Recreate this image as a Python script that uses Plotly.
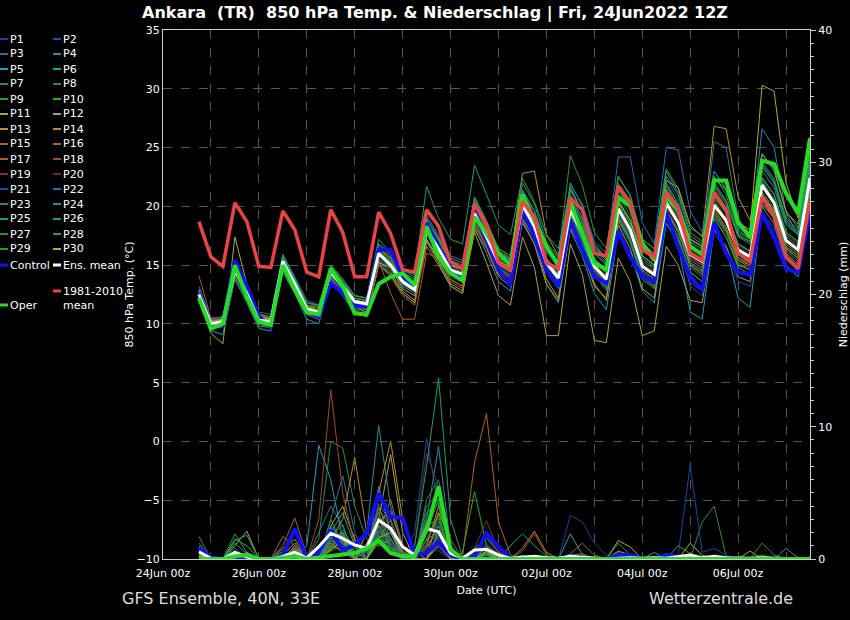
import pandas as pd
import plotly.graph_objects as go

# GFS ensemble run 24Jun2022 12Z, 6-hourly output starting 24Jun 18z
START = "2022-06-24 18:00"
STEPS = 52

MEMBER_NAMES = ["P%d" % n for n in range(1, 31)]
MEMBER_COLORS = [
    "#1f3fa0", "#1f4aa8", "#2e6e9e", "#2e8aaa", "#1e9ec0", "#1ea878",
    "#2a8a5a", "#2e8a4a", "#22a030", "#22b022", "#a8a840", "#b0a050",
    "#c09020", "#b88a28", "#9a6a30", "#9a6a40", "#b06020", "#a04a2a",
    "#7a3428", "#702828", "#1a48b0", "#2070b8", "#2a7a90", "#289090",
    "#18a070", "#20a068", "#2a8a48", "#30a040", "#20a020", "#b0b020",
]

# 850 hPa temperature (°C)
CLIMATE_T = [18.7, 15.7, 14.9, 20.3, 18.7, 14.9, 14.8, 19.6,
             18.0, 14.4, 14.0, 19.7, 17.8, 14.0, 14.0, 19.5,
             17.7, 14.6, 14.4, 19.7, 18.3, 15.3, 14.7, 20.2,
             18.4, 15.2, 14.6, 20.4, 19.1, 15.2, 14.7, 20.7,
             19.7, 16.0, 15.8, 21.7, 20.3, 16.3, 15.7, 21.2,
             19.8, 16.0, 15.4, 21.2, 19.7, 16.0, 15.3, 20.8,
             19.1, 15.7, 14.7, 20.5]
MEAN_T = [12.5, 10.0, 10.2, 14.6, 12.6, 10.3, 10.2, 15.3,
          13.4, 11.3, 11.0, 14.4, 13.2, 11.9, 11.7, 16.0,
          15.0, 13.6, 12.9, 18.0, 16.4, 14.6, 14.2, 19.4,
          17.4, 15.2, 14.6, 20.1, 18.3, 15.2, 13.9, 19.7,
          17.7, 14.9, 13.8, 19.8, 18.0, 14.9, 14.2, 20.3,
          18.6, 15.9, 15.3, 20.1, 18.8, 16.3, 15.7, 21.8,
          20.3, 17.1, 16.3, 22.4]
CONTROL_T = [12.6, 9.8, 9.9, 15.4, 13.2, 10.6, 9.8, 15.2,
             13.2, 11.0, 10.6, 13.5, 12.6, 11.5, 11.5, 16.3,
             16.3, 14.0, 13.2, 18.6, 16.6, 14.7, 14.0, 19.7,
             17.1, 14.6, 13.3, 19.8, 17.4, 14.6, 13.2, 18.8,
             16.3, 14.0, 13.5, 17.9, 15.7, 14.0, 13.6, 19.5,
             16.6, 14.0, 12.9, 18.6, 16.0, 14.4, 14.2, 19.4,
             17.4, 14.7, 14.4, 19.5]
OPER_T = [12.2, 9.6, 10.0, 15.0, 12.3, 10.2, 9.9, 15.0,
          12.9, 11.0, 10.8, 14.7, 13.2, 10.9, 10.8, 13.4,
          14.0, 14.3, 13.3, 18.3, 15.7, 14.3, 13.7, 19.1,
          17.7, 16.0, 15.0, 21.0, 18.8, 16.6, 15.0, 20.4,
          17.7, 15.2, 14.6, 20.8, 20.0, 16.9, 15.4, 20.8,
          19.7, 16.6, 15.9, 22.2, 22.2, 18.6, 17.4, 23.9,
          23.6, 21.1, 19.4, 25.8]

T_P1 = [12.8, 10.3, 10.0, 14.0, 12.2, 10.6, 10.4, 14.6, 13.0, 11.5, 11.2, 13.8, 12.5, 11.2, 11.0, 15.5,
        14.8, 13.3, 12.6, 17.6, 16.0, 14.0, 13.5, 18.8, 17.0, 14.8, 14.0, 19.6, 17.8, 14.5, 13.2, 19.0,
        17.0, 14.2, 12.8, 18.6, 16.8, 13.8, 13.0, 18.5, 17.0, 13.5, 12.8, 18.2, 16.5, 14.5, 14.0, 20.5,
        19.0, 16.0, 15.2, 21.0]
T_P2 = [12.3, 9.8, 9.7, 14.2, 12.4, 10.0, 9.6, 15.0, 13.1, 11.0, 10.6, 14.0, 12.8, 11.6, 11.3, 16.4,
        15.5, 13.9, 13.2, 18.4, 16.8, 14.9, 14.6, 20.0, 18.0, 15.6, 15.0, 20.8, 19.0, 16.0, 14.8, 21.5,
        19.5, 16.2, 15.0, 22.0, 20.5, 16.8, 15.8, 22.4, 20.6, 17.0, 16.2, 21.0, 19.5, 16.8, 16.0, 22.5,
        21.0, 17.5, 16.5, 22.0]
T_P3 = [13.2, 10.4, 10.3, 15.0, 13.0, 10.8, 10.5, 15.8, 13.8, 11.6, 11.2, 14.8, 13.5, 12.0, 11.8, 16.8,
        15.8, 14.0, 13.0, 18.2, 16.5, 14.4, 14.0, 19.0, 17.0, 14.8, 14.0, 19.4, 17.5, 14.4, 13.0, 18.6,
        16.8, 14.0, 13.2, 19.0, 17.2, 14.2, 13.5, 19.6, 18.0, 15.2, 14.5, 19.4, 18.0, 15.6, 15.2, 21.0,
        19.5, 16.5, 15.8, 21.5]
T_P4 = [12.9, 10.2, 10.4, 14.8, 12.8, 10.2, 10.0, 15.1, 13.3, 11.2, 10.9, 14.6, 13.4, 12.2, 12.0, 16.5,
        15.6, 14.2, 13.6, 18.8, 17.2, 15.4, 15.0, 20.4, 18.4, 16.0, 15.5, 21.4, 19.6, 16.4, 15.2, 21.0,
        19.0, 16.0, 15.0, 21.8, 20.0, 16.5, 15.8, 22.6, 21.0, 17.5, 16.8, 23.0, 21.5, 18.0, 17.2, 26.6,
        25.0, 19.5, 17.5, 23.5]
T_P5 = [12.0, 9.4, 9.1, 13.8, 11.8, 9.6, 9.4, 14.4, 12.6, 10.4, 10.0, 13.6, 12.4, 11.0, 10.6, 15.2,
        14.2, 12.6, 11.8, 17.0, 15.2, 13.2, 12.6, 18.2, 16.0, 13.6, 12.8, 18.8, 16.8, 13.4, 11.8, 18.0,
        15.8, 12.6, 11.2, 17.8, 16.0, 12.8, 11.8, 18.6, 16.8, 11.0, 10.4, 18.0, 16.6, 12.2, 11.4, 20.0,
        18.5, 15.0, 14.0, 20.5]
T_P6 = [12.6, 10.2, 10.5, 15.2, 13.2, 10.6, 10.5, 15.9, 13.9, 11.8, 11.5, 15.0, 13.8, 12.4, 12.2, 16.8,
        15.8, 14.4, 13.8, 19.0, 17.4, 15.6, 15.2, 20.8, 18.6, 16.4, 15.8, 21.4, 19.6, 16.4, 15.0, 22.0,
        20.0, 16.8, 15.6, 22.5, 21.0, 17.2, 16.4, 23.2, 21.5, 18.2, 17.5, 22.0, 20.5, 17.5, 17.0, 24.5,
        23.0, 19.5, 18.5, 24.5]
T_P7 = [12.4, 9.9, 10.2, 14.4, 12.5, 10.2, 10.0, 15.0, 13.2, 11.2, 11.0, 14.2, 13.0, 11.8, 11.5, 15.6,
        14.6, 13.2, 12.6, 17.6, 16.0, 14.2, 13.8, 19.0, 17.2, 15.0, 14.4, 20.0, 18.2, 15.4, 14.2, 20.2,
        18.4, 15.4, 14.2, 20.4, 18.6, 15.4, 14.6, 20.8, 19.0, 16.2, 15.6, 20.6, 19.0, 16.4, 15.8, 22.2,
        20.6, 17.6, 16.8, 22.8]
T_P8 = [12.7, 10.1, 10.3, 14.9, 12.9, 10.5, 10.3, 15.5, 13.6, 11.4, 11.1, 14.9, 13.6, 12.2, 11.9, 16.4,
        15.3, 13.8, 13.0, 18.6, 16.8, 14.8, 14.3, 19.8, 17.8, 15.4, 14.8, 20.6, 18.6, 15.2, 13.8, 19.2,
        17.0, 14.2, 13.0, 19.0, 17.2, 14.0, 13.2, 19.6, 17.8, 15.0, 14.4, 19.2, 17.8, 15.4, 15.0, 21.0,
        19.6, 16.6, 15.8, 21.6]
T_P9 = [12.2, 9.6, 9.8, 14.0, 12.0, 9.8, 9.7, 14.7, 12.8, 10.8, 10.5, 14.0, 12.8, 11.5, 11.2, 15.8,
        15.0, 13.4, 12.8, 18.2, 16.6, 15.0, 14.6, 20.8, 18.8, 16.4, 15.8, 22.0, 20.2, 17.0, 15.6, 24.3,
        21.8, 17.8, 16.4, 22.6, 20.8, 17.2, 16.4, 23.0, 21.2, 17.8, 17.0, 22.6, 21.0, 17.8, 17.2, 23.4,
        22.0, 18.6, 17.6, 24.0]
T_P10 = [12.5, 10.0, 10.1, 14.8, 12.7, 10.4, 10.2, 15.4, 13.6, 11.5, 11.2, 14.8, 13.4, 12.0, 11.8, 16.2,
         15.2, 13.8, 13.2, 18.4, 16.8, 15.0, 14.6, 19.6, 17.6, 15.6, 15.0, 20.6, 18.8, 15.6, 14.2, 20.4,
         18.2, 15.0, 14.0, 20.2, 18.4, 15.2, 14.4, 20.6, 18.8, 16.0, 15.4, 20.8, 19.4, 16.8, 16.2, 22.4,
         21.0, 17.8, 17.0, 23.4]
T_P11 = [12.0, 9.2, 8.3, 17.4, 13.4, 10.0, 9.8, 15.6, 13.8, 11.0, 10.4, 14.2, 13.0, 11.4, 11.0, 15.2,
         14.8, 13.0, 12.4, 17.2, 15.6, 13.8, 13.2, 18.4, 16.6, 14.2, 13.4, 19.0, 17.2, 13.8, 12.2, 18.8,
         16.6, 13.4, 12.0, 18.4, 16.4, 13.0, 12.2, 19.2, 17.2, 14.4, 13.6, 19.0, 17.4, 15.0, 14.6, 21.0,
         19.6, 16.4, 15.6, 21.6]
T_P12 = [12.4, 9.8, 9.9, 14.2, 12.3, 10.1, 10.0, 14.8, 13.0, 11.0, 10.8, 13.8, 12.6, 11.6, 11.4, 15.4,
         14.4, 12.8, 12.0, 17.2, 15.4, 13.4, 12.8, 17.8, 15.2, 12.4, 11.6, 17.4, 14.8, 9.0, 9.0, 16.8,
         14.2, 8.6, 8.4, 15.6, 13.6, 9.0, 9.4, 16.6, 15.0, 12.0, 11.8, 18.0, 16.6, 14.0, 13.6, 20.2,
         19.0, 16.0, 15.0, 21.0]
T_P13 = [12.8, 10.4, 10.6, 15.2, 13.2, 10.8, 10.6, 15.6, 13.8, 11.6, 11.4, 14.2, 13.0, 12.0, 11.8, 16.4,
         15.6, 14.0, 13.4, 18.8, 17.2, 15.4, 14.8, 20.4, 18.6, 16.2, 15.6, 22.8, 23.0, 17.6, 15.8, 21.4,
         19.6, 16.6, 15.4, 21.8, 20.2, 16.8, 16.0, 22.2, 21.6, 18.4, 17.4, 26.8, 26.6, 20.8, 18.8, 24.4,
         23.2, 19.6, 18.2, 24.0]
T_P14 = [12.1, 9.6, 9.8, 14.4, 12.4, 10.0, 9.8, 15.0, 13.0, 10.8, 10.4, 14.0, 12.6, 11.2, 10.6, 15.0,
         14.2, 12.6, 11.8, 16.6, 15.0, 13.2, 12.6, 18.0, 16.4, 14.0, 13.2, 18.6, 16.8, 13.4, 12.0, 18.2,
         16.2, 13.2, 12.2, 18.8, 17.0, 14.0, 13.2, 19.6, 17.8, 15.0, 14.2, 19.8, 18.2, 15.6, 15.0, 21.2,
         19.8, 16.8, 16.0, 22.0]
T_P15 = [12.9, 10.3, 10.2, 14.4, 12.6, 10.4, 10.3, 15.2, 13.2, 11.0, 10.6, 13.6, 12.4, 11.0, 10.6, 15.0,
         14.0, 12.4, 11.6, 17.0, 15.2, 13.6, 13.0, 18.6, 16.8, 14.6, 13.8, 19.6, 17.8, 14.6, 13.4, 19.2,
         17.2, 14.4, 13.4, 19.2, 17.4, 14.4, 13.6, 19.8, 18.0, 15.2, 14.6, 19.6, 18.0, 15.4, 14.8, 21.0,
         19.4, 16.4, 15.6, 21.6]
T_P16 = [12.6, 10.0, 10.1, 14.8, 12.8, 10.6, 10.4, 15.6, 13.6, 11.4, 11.0, 14.6, 13.2, 11.8, 11.4, 16.2,
         15.2, 13.6, 12.8, 18.0, 16.4, 14.4, 13.8, 19.2, 17.2, 14.8, 14.2, 20.0, 18.2, 15.0, 13.8, 19.6,
         17.6, 14.8, 13.6, 19.4, 17.6, 14.6, 13.8, 20.0, 18.4, 15.6, 15.0, 20.4, 18.8, 16.2, 15.6, 22.0,
         20.6, 17.4, 16.6, 22.6]
T_P17 = [14.1, 10.5, 10.3, 14.4, 12.6, 10.4, 10.2, 15.0, 13.2, 11.0, 10.6, 13.8, 12.8, 11.4, 11.2, 15.4,
         12.6, 10.4, 10.4, 16.0, 15.6, 13.8, 13.2, 18.8, 17.0, 14.6, 14.0, 19.8, 18.0, 15.2, 14.0, 19.8,
         17.8, 15.0, 14.0, 19.8, 18.0, 15.0, 14.2, 20.4, 18.8, 16.0, 15.2, 20.2, 18.6, 16.0, 15.4, 21.6,
         20.2, 17.0, 16.2, 22.2]
T_P18 = [12.5, 10.4, 10.6, 14.6, 12.8, 10.6, 10.6, 15.6, 13.8, 11.6, 11.2, 14.6, 13.4, 12.2, 12.0, 16.6,
         15.6, 14.0, 13.4, 18.6, 16.8, 14.8, 14.4, 19.8, 17.8, 15.4, 14.8, 20.4, 18.6, 15.4, 14.0, 19.8,
         17.6, 14.6, 13.6, 19.6, 17.8, 14.6, 13.8, 20.2, 18.4, 15.6, 15.0, 20.0, 18.6, 16.0, 15.4, 21.8,
         20.2, 17.0, 16.2, 22.4]
T_P19 = [12.2, 9.8, 10.0, 14.2, 12.2, 10.0, 9.8, 15.0, 13.4, 11.6, 11.6, 14.8, 13.6, 12.4, 12.2, 16.2,
         15.0, 13.4, 12.8, 17.8, 16.2, 14.4, 14.0, 19.2, 17.4, 15.2, 14.6, 20.2, 18.4, 15.2, 13.8, 19.4,
         17.4, 14.6, 13.6, 19.6, 17.8, 14.8, 14.0, 20.2, 18.4, 15.6, 15.0, 20.0, 18.6, 16.2, 15.6, 21.8,
         20.4, 17.2, 16.4, 22.6]
T_P20 = [12.6, 10.2, 10.2, 14.6, 12.6, 10.2, 10.2, 15.2, 13.4, 11.4, 11.0, 14.4, 13.2, 11.8, 11.6, 16.0,
         15.0, 13.6, 13.0, 18.2, 16.6, 14.8, 14.4, 19.6, 17.6, 15.4, 14.8, 20.2, 18.4, 15.4, 14.2, 19.8,
         17.8, 15.0, 14.0, 20.0, 18.2, 15.2, 14.4, 20.6, 18.8, 16.2, 15.6, 20.4, 19.0, 16.6, 16.0, 22.0,
         20.6, 17.4, 16.6, 22.6]
T_P21 = [12.3, 9.7, 9.9, 14.4, 12.4, 10.2, 10.0, 15.0, 13.2, 11.0, 10.6, 14.0, 12.8, 11.6, 11.4, 16.0,
         15.0, 13.4, 12.6, 17.8, 16.2, 14.2, 13.6, 19.0, 17.0, 14.8, 14.2, 19.6, 17.6, 14.6, 13.4, 19.2,
         17.2, 14.4, 13.4, 19.4, 17.4, 14.4, 13.6, 19.2, 16.8, 13.2, 12.4, 17.6, 16.4, 13.6, 13.2, 19.4,
         18.2, 15.4, 14.6, 20.6]
T_P22 = [13.0, 10.5, 10.6, 15.4, 13.4, 11.0, 10.8, 15.9, 14.0, 12.0, 11.6, 14.8, 13.6, 12.4, 12.2, 16.8,
         16.0, 14.6, 14.0, 19.2, 17.6, 15.8, 15.4, 20.6, 18.4, 16.0, 15.6, 21.4, 19.6, 16.8, 15.8, 21.8,
         20.2, 17.0, 16.0, 24.2, 24.2, 18.6, 16.8, 25.0, 24.8, 19.6, 17.8, 23.0, 21.4, 18.2, 17.6, 23.4,
         22.0, 18.8, 17.8, 23.8]
T_P23 = [12.8, 10.2, 10.1, 14.6, 12.6, 10.4, 10.2, 15.4, 13.6, 11.4, 11.0, 14.2, 13.0, 11.8, 11.6, 16.2,
         15.2, 13.6, 13.0, 18.2, 16.6, 14.6, 14.2, 19.6, 17.6, 15.2, 14.6, 20.6, 18.8, 15.6, 14.4, 20.8,
         18.8, 15.6, 14.6, 21.0, 19.2, 15.8, 15.0, 21.6, 20.0, 17.0, 16.4, 25.5, 25.0, 19.0, 17.6, 23.8,
         22.4, 18.8, 17.6, 23.6]
T_P24 = [12.4, 9.9, 10.0, 14.4, 12.4, 10.2, 10.0, 15.2, 13.2, 11.2, 10.8, 14.2, 13.0, 11.8, 11.6, 16.0,
         15.0, 13.4, 12.8, 18.0, 16.4, 14.4, 14.0, 19.4, 17.4, 15.0, 14.4, 20.0, 18.2, 15.0, 13.6, 19.6,
         17.4, 14.6, 13.4, 19.8, 17.8, 14.6, 13.8, 20.2, 18.4, 15.4, 14.8, 20.2, 18.6, 16.0, 15.4, 22.0,
         20.4, 17.2, 16.4, 22.4]
T_P25 = [12.7, 10.2, 10.4, 15.0, 13.0, 10.6, 10.4, 15.8, 13.8, 11.8, 11.6, 15.0, 13.8, 12.4, 12.2, 17.2,
         16.0, 14.6, 14.2, 21.7, 19.0, 17.2, 16.8, 23.5, 21.0, 18.4, 17.6, 22.4, 20.4, 17.6, 16.4, 21.6,
         19.6, 16.6, 15.6, 21.4, 19.8, 16.6, 15.8, 21.8, 20.2, 17.2, 16.6, 21.6, 20.2, 17.4, 16.8, 23.0,
         21.6, 18.4, 17.6, 23.6]
T_P26 = [12.3, 9.8, 10.0, 14.6, 12.6, 10.4, 10.2, 15.2, 13.4, 11.4, 11.0, 14.4, 13.2, 11.8, 11.6, 15.8,
         14.8, 13.4, 12.8, 18.0, 16.4, 14.6, 14.2, 19.8, 17.8, 15.6, 15.0, 20.6, 18.6, 15.6, 14.2, 20.6,
         18.6, 15.6, 14.4, 20.6, 18.8, 15.6, 14.8, 21.0, 19.2, 16.4, 15.8, 21.0, 19.4, 16.8, 16.2, 22.4,
         21.0, 17.8, 17.0, 23.0]
T_P27 = [12.6, 10.0, 10.2, 14.4, 12.4, 10.2, 10.0, 15.0, 13.2, 11.2, 10.8, 14.4, 13.2, 11.8, 11.4, 16.0,
         15.0, 13.6, 13.0, 18.4, 16.8, 14.8, 14.4, 19.6, 17.6, 15.2, 14.6, 20.2, 18.4, 15.2, 13.8, 19.4,
         17.4, 14.4, 13.2, 19.2, 17.2, 14.0, 13.2, 19.6, 17.8, 14.8, 14.0, 19.4, 17.8, 15.2, 14.6, 21.2,
         19.8, 16.6, 15.8, 21.8]
T_P28 = [12.4, 9.8, 9.9, 14.6, 12.6, 10.2, 10.0, 15.4, 13.6, 11.4, 11.0, 14.6, 13.4, 12.0, 11.8, 16.4,
         15.4, 14.0, 13.4, 18.6, 17.0, 15.2, 14.8, 20.2, 18.2, 16.0, 15.4, 21.2, 19.2, 16.2, 15.0, 21.4,
         19.6, 16.4, 15.2, 21.6, 19.8, 16.4, 15.6, 22.0, 20.2, 17.2, 16.6, 21.8, 20.4, 17.6, 17.0, 23.6,
         22.2, 19.0, 18.0, 24.6]
T_P29 = [12.5, 10.1, 10.2, 14.8, 12.8, 10.4, 10.2, 15.6, 13.8, 11.6, 11.2, 14.8, 13.6, 12.2, 12.0, 16.4,
         15.4, 13.8, 13.2, 18.2, 16.6, 14.6, 14.2, 19.4, 17.4, 15.0, 14.4, 20.0, 18.0, 14.8, 13.4, 19.2,
         17.2, 14.2, 13.0, 19.0, 17.0, 13.8, 13.0, 19.4, 17.4, 14.4, 13.6, 19.0, 17.4, 14.8, 14.2, 20.8,
         19.4, 16.2, 15.4, 21.4]
T_P30 = [12.6, 10.2, 10.4, 14.8, 12.8, 10.6, 10.4, 15.4, 13.4, 11.2, 10.8, 14.4, 13.2, 12.0, 11.8, 16.0,
         15.0, 13.6, 13.0, 18.4, 16.8, 15.0, 14.6, 19.8, 17.8, 15.4, 14.8, 20.4, 18.6, 15.4, 14.0, 20.0,
         18.0, 15.0, 14.0, 20.4, 18.8, 15.8, 15.0, 21.4, 20.0, 17.2, 16.6, 22.4, 21.4, 18.6, 18.0, 30.3,
         29.8, 22.0, 19.0, 25.0]

# 6-hourly precipitation (mm)
MEAN_R = [0.55, 0.05, 0, 0.5, 0.15, 0, 0, 0.2, 0.5, 0.07, 0.93, 1.94, 1.56,
          1.06, 0.8, 2.95, 2.3, 0.93, 0.3, 2.3, 2.06, 0.43, 0.05, 0.68, 0.73, 0.3,
          0.05, 0.15, 0.2, 0.1, 0.05, 0.2, 0.15, 0.05, 0, 0.05, 0.1, 0.05, 0.1,
          0.05, 0.15, 0.3, 0.1, 0.2, 0.1, 0.05, 0.05, 0.1, 0.05, 0.05, 0, 0.05]
CONTROL_R = [0.8, 0.1, 0, 0.2, 0, 0, 0, 0.25, 2.3, 0, 0.55, 2.2, 0.68,
             1.06, 1.94, 4.97, 3.2, 3.1, 0.3, 0.45, 1.3, 0.3, 0, 0.2, 1.94, 0.93,
             0.05, 0, 0, 0, 0, 0.2, 0.1, 0, 0, 0.3, 0.3, 0, 0,
             0.3, 0.2, 0, 0, 0, 0, 0, 0, 0, 0, 0, 0, 0]
OPER_R = [0, 0, 0, 0.2, 0.3, 0, 0, 0.1, 0.2, 0, 0.1, 0.2, 0.3,
          0.45, 0.8, 1.4, 0.45, 0.2, 0.2, 2.2, 5.5, 0.7, 0, 0, 0, 0,
          0, 0, 0, 0, 0, 0, 0, 0, 0, 0, 0, 0, 0,
          0, 0, 0, 0, 0, 0, 0, 0, 0, 0, 0, 0, 0]

R_P1 = [0.5, 0, 0, 0.3, 0, 0, 0, 0, 0.8, 0, 0.5, 1.0, 2.0,
        1.0, 0, 3.0, 2.0, 0.5, 0, 1.5, 0.8, 0, 0, 0, 0.5, 0,
        0, 0, 0, 0, 0, 3.3, 2.8, 1.2, 0.3, 0, 0, 0, 0,
        0, 0, 0, 0, 0, 0, 0, 0, 0, 0, 0, 0, 0]
R_P2 = [0.3, 0, 0, 0, 0.2, 0, 0, 0, 1.0, 0, 0, 1.5, 0.8,
        0, 0, 2.0, 1.0, 0, 2.0, 9.1, 4.0, 0.5, 0, 0, 1.2, 0.3,
        0, 0, 0, 0, 0, 0, 0, 0, 0, 0, 0, 0, 0,
        0, 0, 0, 0, 0, 0, 0, 0, 0, 0, 0, 0, 0]
R_P3 = [0.6, 0, 0, 0.4, 0, 0, 0, 0.5, 0, 0, 2.0, 4.0, 2.5,
        0, 1.0, 3.5, 1.2, 0, 0, 1.0, 2.0, 0, 0, 0.4, 0, 0,
        0, 0, 0, 0, 0, 0, 0, 0, 0, 0, 0, 0, 0,
        0, 0, 0, 0, 0, 0, 0, 0, 0, 0, 0, 0, 0]
R_P4 = [0.4, 0, 0, 0, 0, 0, 0, 0, 0.6, 0, 0, 2.5, 1.5,
        0, 0, 5.5, 2.0, 0, 0.5, 3.0, 8.5, 1.0, 0, 0, 0.6, 0,
        0, 0.3, 0, 0, 0, 0, 0, 0, 0, 0, 0, 0, 0,
        0, 0, 0, 0, 0, 0, 0, 0, 0, 0, 0, 0, 0]
R_P5 = [0.7, 0, 0, 0.5, 0, 0, 0, 0, 0, 1.0, 8.6, 6.0, 1.5,
        0.5, 0, 2.5, 1.0, 0, 0, 0, 1.5, 0, 0, 0.8, 1.6, 0.5,
        0, 0, 0, 0, 0, 1.9, 0.3, 0, 0, 0, 0, 0, 0.5,
        0, 0, 0, 0, 0, 0, 0, 0, 0, 0, 0, 0, 0]
R_P6 = [1.2, 0, 0, 1.5, 1.0, 0, 0, 0, 0.4, 0, 0, 2.0, 3.5,
        1.0, 0, 1.8, 0.8, 0, 0, 2.5, 3.0, 0.4, 0, 0, 0, 0,
        1.0, 1.9, 1.0, 0.2, 0, 0, 0, 0, 0, 0, 0, 0, 0,
        0, 0, 0, 0, 0, 0, 0, 0, 0, 0, 0, 0, 0]
R_P7 = [0.4, 0, 0, 0.6, 0, 0, 0, 0, 0, 0, 1.5, 8.9, 8.4,
        4.0, 1.5, 1.0, 2.5, 0.5, 0, 0, 2.0, 0, 0, 0, 0.3, 0,
        0, 0, 0, 0, 0, 0, 0, 0, 0, 0, 0, 0, 0,
        0, 0, 0, 0, 0, 0, 0, 0, 0, 0, 0, 0, 0]
R_P8 = [0.6, 0, 0, 0.4, 0, 0, 0, 0, 0.5, 0, 0, 1.2, 2.2,
        0.8, 0.5, 4.0, 1.5, 0, 0, 4.5, 6.0, 1.0, 0, 0, 0, 0,
        0, 0, 0, 0, 0, 0, 0, 0, 0, 0, 0, 0, 0,
        0, 0, 0, 2.8, 4.0, 0.2, 0, 0, 0, 0, 0, 0, 0]
R_P9 = [0.8, 0, 0, 1.9, 0.5, 0, 0, 0.6, 0, 0, 0, 3.0, 1.0,
        0, 0, 2.2, 0.8, 0, 0, 2.0, 4.5, 0.8, 0, 0, 0, 0,
        0, 0, 0, 0, 0, 0, 0, 0, 0, 1.2, 0.3, 0, 0,
        0, 0, 0, 0, 0, 0, 0, 0, 0, 0, 0, 0, 0]
R_P10 = [0.3, 0, 0, 0, 0.3, 0, 0, 0, 0.7, 0, 0, 0.8, 1.8,
         0.6, 0, 3.0, 1.0, 0, 0, 1.2, 3.5, 0, 0.5, 5.1, 1.0, 0,
         0, 0, 0, 0, 0, 0, 0, 0, 0, 0, 0, 0, 0,
         0, 0, 0, 0, 0, 0, 0, 0, 0.3, 0, 0, 0, 0]
R_P11 = [0.2, 0, 0, 1.0, 2.1, 0, 0, 0, 0.4, 0, 0, 1.0, 0.6,
         0, 1.2, 2.8, 3.6, 1.0, 0, 0, 1.0, 0, 0, 0, 0.5, 0,
         0, 0, 0, 0, 0, 0, 0, 0, 0, 1.4, 0.9, 0, 0,
         0, 0, 0, 0, 0, 0, 0, 0, 0, 0, 0, 0, 0]
R_P12 = [0.4, 0, 0, 0.5, 0, 0, 0, 0.3, 1.2, 0, 0, 2.5, 4.0,
         1.5, 0, 3.0, 7.9, 2.0, 0, 0.8, 2.5, 0, 0, 0, 0, 0.3,
         0, 0, 0, 0, 0, 0, 0, 0, 0, 0, 0, 0, 0,
         0, 0, 0, 0, 0, 0, 0, 0.6, 0, 0, 0, 0, 0]
R_P13 = [0.5, 0, 0, 0, 0, 0, 0, 0.8, 1.5, 0, 0, 1.0, 2.0,
         0, 2.0, 5.0, 8.9, 3.0, 0.5, 0, 3.5, 1.5, 0, 0, 0, 0,
         0, 0.8, 2.1, 0.5, 0, 0, 0, 0, 0, 0, 0, 0, 0,
         0, 0, 0, 0, 0, 0, 0, 0, 0, 0, 0, 0, 0]
R_P14 = [0.3, 0, 0, 0.3, 0, 0, 0, 0, 1.0, 0, 0, 1.5, 3.0,
         7.7, 2.0, 1.0, 1.5, 0, 0, 1.0, 4.0, 0.8, 0, 0, 0.4, 0,
         0, 0, 0, 0, 0, 0, 0, 0, 0, 0, 0, 0, 0,
         0, 0, 0, 0, 0, 0, 0, 0, 0, 0, 0, 0, 0]
R_P15 = [0.6, 0, 0, 0.4, 0, 0, 0, 1.0, 3.1, 0.3, 0, 0.8, 1.2,
         0, 0, 2.0, 4.5, 1.0, 0, 0, 1.8, 0, 0, 0, 0.6, 0,
         0, 0, 0, 0, 0, 0.4, 1.2, 0.3, 0, 0, 0, 0, 0,
         0, 0, 0, 0, 0, 0, 0, 0, 0, 0, 0, 0, 0]
R_P16 = [0.4, 0, 0, 0, 0.4, 0, 0, 1.7, 1.0, 0, 0, 2.0, 1.0,
         0, 0.6, 3.8, 2.4, 0, 0, 1.5, 2.0, 0, 0, 0, 1.0, 0.4,
         0, 0, 0, 0, 0, 0, 0, 0, 0, 0, 0, 0, 0,
         0, 0, 0, 0, 0, 0, 0, 0, 0, 0, 0, 0, 0]
R_P17 = [0.7, 0, 0, 0.5, 0, 0, 0, 0, 0.6, 0, 0, 1.2, 0.5,
         0, 0, 1.5, 3.0, 0.6, 0, 0, 1.2, 0, 0.2, 7.3, 11.0, 2.8,
         0.3, 0, 0, 0, 0, 0.3, 0.4, 0, 0, 0, 0, 0, 0,
         0, 0, 0, 0, 0, 0, 0, 0, 0, 0, 0, 0, 0]
R_P18 = [0.5, 0, 0, 0.3, 0, 0, 0, 0, 0.8, 0, 3.0, 12.8, 5.0,
         1.0, 0, 2.6, 1.2, 0, 0, 3.0, 2.5, 0, 0, 0, 1.8, 0.5,
         0, 0.6, 1.9, 0.3, 0, 0, 0, 0, 0, 0, 0, 0, 0,
         0, 0, 0, 0, 0, 0, 0, 0, 0, 0, 0, 0, 0]
R_P19 = [0.3, 0, 0, 0.4, 0, 0, 0, 0, 0.5, 0, 0, 0.7, 1.5,
         0, 0, 2.5, 1.0, 0, 0, 1.2, 1.0, 0, 0, 0.8, 2.9, 0.6,
         0, 0, 0, 0, 0, 0, 0, 0, 0, 0, 0, 0, 0,
         0, 0, 0, 0, 0, 0, 0, 0, 0, 0, 0, 0, 0]
R_P20 = [0.4, 0, 0, 0, 0.3, 0, 0, 0, 0.6, 0, 0, 1.0, 0.8,
         0, 0, 1.6, 0.6, 0, 1.0, 8.0, 5.5, 1.5, 0, 0, 0.5, 0,
         0, 0, 0, 0, 0, 0, 0, 0, 0, 0, 0, 0, 0,
         0, 0, 0, 0, 0, 0, 0, 0, 0, 0, 0, 0, 0]
R_P21 = [0.5, 0, 0, 0.2, 0, 0, 0, 0, 0.9, 0, 0, 1.8, 1.0,
         0, 0, 2.2, 1.4, 0, 0, 1.0, 0.6, 0, 0, 0, 0, 0,
         0, 0, 0, 0, 0, 0, 0, 0, 0, 0, 0, 0, 0,
         0, 0.3, 7.1, 0.5, 0.8, 0.3, 0, 0, 0, 0, 0, 0, 0]
R_P22 = [0.6, 0, 0, 0.5, 0, 0, 0, 0, 0.3, 0, 0, 2.4, 1.2,
         0, 0.6, 4.2, 2.8, 0, 0, 2.0, 2.5, 0, 0, 0, 0.8, 0,
         0, 0, 0, 0, 0, 0, 0, 0, 0, 0.5, 0, 0, 0,
         0, 0, 0, 0, 0, 0, 0, 0, 0, 0, 0, 0, 0]
R_P23 = [0.5, 0, 0, 0.4, 0, 0, 0, 0, 0.6, 0, 0, 3.0, 6.3,
         2.0, 0, 3.0, 1.5, 0, 0, 4.0, 5.0, 0.6, 0, 0, 0.9, 0,
         0, 0, 0, 0, 0, 0, 0, 0, 0, 0, 0, 0, 0,
         0, 0, 0, 0, 0, 0, 0, 0, 0, 0, 0, 0, 0]
R_P24 = [0.8, 0, 0, 0.6, 0, 0, 0, 0, 0.4, 0, 0, 1.5, 2.0,
         0, 2.0, 10.1, 4.0, 0.8, 0, 0, 2.2, 0, 0, 0, 0.4, 0,
         0, 0, 0, 0.2, 0, 0, 0, 0, 0, 0, 0, 0, 0,
         0, 0, 0, 0, 0, 0, 0, 0, 0, 0, 0.8, 0.1, 0]
R_P25 = [1.0, 0, 0, 1.2, 0.4, 0, 0, 0, 0.5, 0, 0, 1.6, 2.6,
         0, 0, 2.5, 1.0, 0, 1.0, 7.0, 13.7, 3.0, 0.2, 0, 0.5, 0,
         0, 0, 0, 0, 0, 0, 0, 0, 0, 0, 0, 0, 0,
         0, 0, 0, 0, 0, 0, 0, 0, 0, 0, 0, 0, 0]
R_P26 = [1.7, 0, 0, 1.4, 1.8, 0, 0, 0, 0.3, 0, 0, 1.0, 1.5,
         0, 0, 1.8, 0.6, 0, 0, 2.8, 1.5, 0, 0, 0, 0.4, 0,
         0, 0, 0, 0, 0, 0, 0, 0, 0, 0, 0, 0, 0,
         0, 1.0, 0.4, 0, 0, 0, 0, 0, 0, 0, 0, 0, 0]
R_P27 = [0.4, 0, 0, 0.8, 0, 0, 0, 0, 0.5, 0, 0, 0.9, 1.2,
         0.6, 0, 2.0, 1.6, 0, 0, 1.5, 3.2, 0.5, 0, 0, 0, 0,
         0, 0, 0, 0, 0, 0, 0, 0, 0, 0, 0, 0, 0,
         0, 0, 0, 0, 0, 0, 0, 0, 1.2, 0.3, 0, 0, 0]
R_P28 = [0.9, 0, 0, 0.6, 0, 0, 0, 0, 0.4, 0, 0, 1.3, 1.8,
         0, 0, 1.4, 0.8, 0, 0, 3.5, 4.2, 0.8, 0, 0, 0.3, 0,
         0, 0, 0, 0, 0, 0, 0, 0, 0, 0, 0, 0, 0,
         0, 0, 0, 0, 0, 0, 0, 0, 0, 0, 0, 0, 0]
R_P29 = [0.6, 0, 0, 0.5, 0, 0, 0, 0, 0.6, 0, 0, 0.6, 1.0,
         0, 0, 1.2, 0.5, 0, 0, 2.0, 2.8, 0.4, 0, 0, 0, 0,
         0, 0, 0, 0, 0, 0, 0, 0, 0, 0.3, 0, 0, 0,
         0, 0, 0, 0, 0, 0, 0, 0, 0, 0, 0, 0, 0]
R_P30 = [0.3, 0, 0, 0, 0.5, 0, 0, 0, 0.8, 0, 0, 0.7, 1.4,
         0, 0, 1.6, 2.0, 0.4, 0, 0, 1.5, 0, 0, 0, 0.6, 0,
         0, 0, 0, 0, 0, 0, 0, 0, 0, 0.6, 0.3, 0, 0,
         0, 0, 1.2, 0.3, 0, 0, 0, 0, 0, 0, 0, 0, 0]

members_t = [T_P1, T_P2, T_P3, T_P4, T_P5, T_P6, T_P7, T_P8, T_P9, T_P10,
             T_P11, T_P12, T_P13, T_P14, T_P15, T_P16, T_P17, T_P18, T_P19, T_P20,
             T_P21, T_P22, T_P23, T_P24, T_P25, T_P26, T_P27, T_P28, T_P29, T_P30]
members_r = [R_P1, R_P2, R_P3, R_P4, R_P5, R_P6, R_P7, R_P8, R_P9, R_P10,
             R_P11, R_P12, R_P13, R_P14, R_P15, R_P16, R_P17, R_P18, R_P19, R_P20,
             R_P21, R_P22, R_P23, R_P24, R_P25, R_P26, R_P27, R_P28, R_P29, R_P30]

FONT = "DejaVu Sans"
CONTROL_COLOR = "#1010f0"
MEAN_COLOR = "#ffffff"
OPER_COLOR = "#22dd22"
CLIMATE_COLOR = "#e84444"

# plot area in pixels (850x620 page)
L, T, W, H = 163, 30, 647, 529

times = pd.date_range(START, periods=STEPS, freq="6h")


def px(x):
    return (x - L) / W


def py(y):
    return (T + H - y) / H


fig = go.Figure()

for name, color, temp in zip(MEMBER_NAMES, MEMBER_COLORS, members_t):
    fig.add_trace(go.Scatter(x=times, y=temp, mode="lines", name=name,
                             line=dict(color=color, width=1)))
fig.add_trace(go.Scatter(x=times, y=CONTROL_T, mode="lines", name="Control",
                         line=dict(color=CONTROL_COLOR, width=4)))
fig.add_trace(go.Scatter(x=times, y=MEAN_T, mode="lines", name="Ens. mean",
                         line=dict(color=MEAN_COLOR, width=3)))
fig.add_trace(go.Scatter(x=times, y=OPER_T, mode="lines", name="Oper",
                         line=dict(color=OPER_COLOR, width=4)))
fig.add_trace(go.Scatter(x=times, y=CLIMATE_T, mode="lines", name="1981-2010 mean",
                         line=dict(color=CLIMATE_COLOR, width=3.5)))

for name, color, rain in zip(MEMBER_NAMES, MEMBER_COLORS, members_r):
    fig.add_trace(go.Scatter(x=times, y=rain, mode="lines", yaxis="y2",
                             line=dict(color=color, width=1)))
fig.add_trace(go.Scatter(x=times, y=CONTROL_R, mode="lines", yaxis="y2",
                         line=dict(color=CONTROL_COLOR, width=4)))
fig.add_trace(go.Scatter(x=times, y=MEAN_R, mode="lines", yaxis="y2",
                         line=dict(color=MEAN_COLOR, width=3)))
fig.add_trace(go.Scatter(x=times, y=OPER_R, mode="lines", yaxis="y2",
                         line=dict(color=OPER_COLOR, width=4)))

# hand-drawn legend left of the plot, two columns like the original
shapes, notes = [], []


def legend_entry(label, color, width, x0, y):
    shapes.append(dict(type="line", xref="paper", yref="paper",
                       x0=px(x0), x1=px(x0 + 8), y0=py(y), y1=py(y),
                       line=dict(color=color, width=width)))
    notes.append(dict(text=label, xref="paper", yref="paper", x=px(x0 + 8), y=py(y),
                      xanchor="left", yanchor="middle", showarrow=False, align="left",
                      font=dict(family=FONT, size=11, color="white")))


for k, (name, color) in enumerate(zip(MEMBER_NAMES, MEMBER_COLORS)):
    legend_entry(name, color, 2, 0 if k % 2 == 0 else 53, 39 + 15 * (k // 2))
legend_entry("Control", CONTROL_COLOR, 3, 0, 265)
legend_entry("Ens. mean", MEAN_COLOR, 3, 53, 265)
legend_entry("Oper", OPER_COLOR, 3, 0, 305)
legend_entry("1981-2010", CLIMATE_COLOR, 3, 53, 291)
notes[-1].update(text="1981-2010<br>mean", y=py(298))

notes.append(dict(text="GFS Ensemble, 40N, 33E", xref="paper", yref="paper",
                  x=px(120), y=py(598), xanchor="left", yanchor="middle", showarrow=False,
                  font=dict(family=FONT, size=16, color="#dddddd")))
notes.append(dict(text="Wetterzentrale.de", xref="paper", yref="paper",
                  x=px(795), y=py(598), xanchor="right", yanchor="middle", showarrow=False,
                  font=dict(family=FONT, size=16, color="#dddddd")))

grid = dict(showgrid=True, gridcolor="#555555", griddash="dash", gridwidth=1)

fig.update_layout(
    width=850, height=620,
    paper_bgcolor="black", plot_bgcolor="black",
    margin=dict(l=L, r=850 - L - W, t=T, b=620 - T - H),
    showlegend=False,
    font=dict(family=FONT, size=11, color="white"),
    title=dict(text="<b>Ankara\u00a0\u00a0(TR)\u00a0\u00a0850 hPa Temp. &amp; Niederschlag | Fri, 24Jun2022 12Z</b>",
               x=435 / 850, xanchor="center", y=1 - 12 / 620, yanchor="middle",
               font=dict(family=FONT, size=16, color="white")),
    xaxis=dict(type="date", range=["2022-06-24 00:00", "2022-07-07 12:00"], automargin=False,
               tick0="2022-06-24", dtick=2 * 86400000, tickformat="%d%b %Hz",
               ticks="", ticklabelstandoff=4, tickfont=dict(size=11, color="white"),
               showline=True, linecolor="#cccccc", linewidth=1, mirror=True,
               minor=dict(dtick=86400000, showgrid=True, gridcolor="#555555", griddash="dash"),
               title=dict(text="Date (UTC)", font=dict(size=11, color="white"), standoff=7),
               **grid),
    yaxis=dict(range=[-10, 35], dtick=5, ticks="", zeroline=False, automargin=False,
               tickfont=dict(size=11, color="white"),
               showline=True, linecolor="#cccccc", linewidth=1, mirror=True,
               title=dict(text="850 hPa Temp. (°C)", font=dict(size=11, color="white"), standoff=0),
               **grid),
    yaxis2=dict(overlaying="y", side="right", range=[0, 40], dtick=10, automargin=False,
                showgrid=False, zeroline=False, ticks="outside", ticklen=5, tickcolor="#cccccc",
                tickfont=dict(size=11, color="white"),
                showline=True, linecolor="#cccccc",
                minor=dict(dtick=1, ticks="outside", ticklen=3, tickcolor="#cccccc"),
                title=dict(text="Niederschlag (mm)", font=dict(size=11, color="white"), standoff=10)),
    shapes=shapes,
    annotations=notes,
)

# the page body has a default 8px margin; drop it so the figure sits at the window corner
fig.write_html("out.html", config={"displayModeBar": False},
               post_script="document.body.style.margin='0px';")
